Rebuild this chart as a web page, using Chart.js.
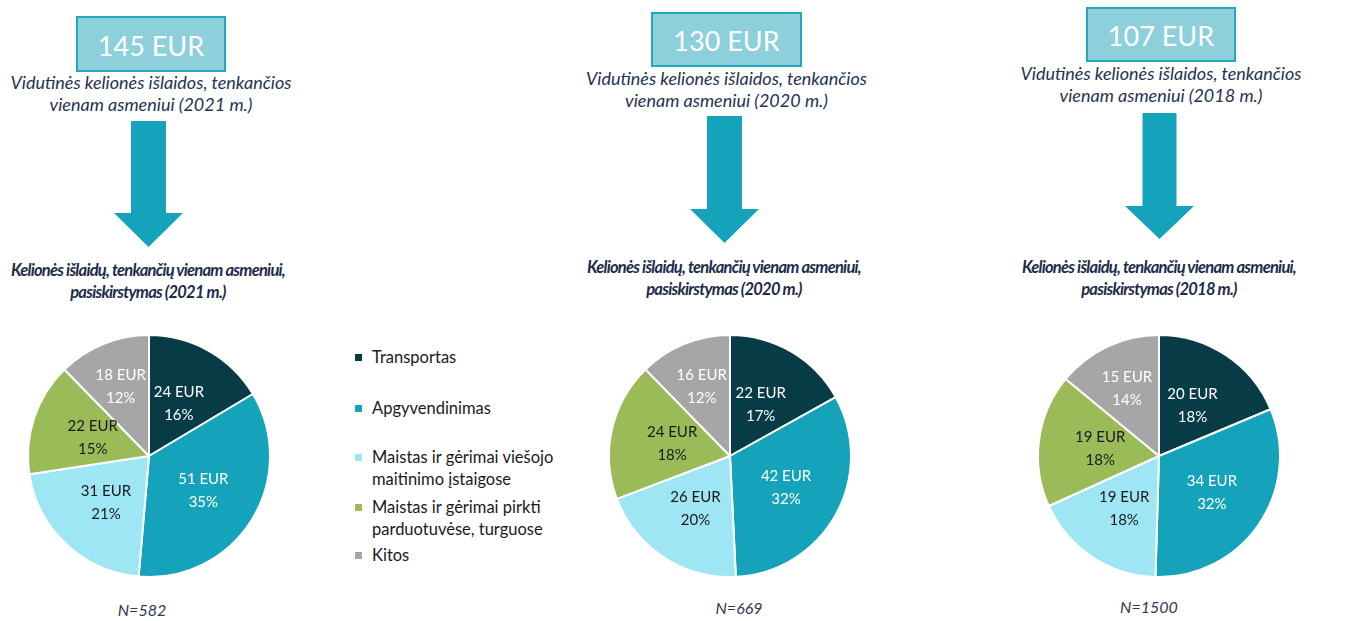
<!DOCTYPE html>
<html>
<head>
<meta charset="utf-8">
<script src="https://cdn.jsdelivr.net/npm/chart.js@4/dist/chart.umd.min.js"></script>
<style>
  html, body { margin:0; padding:0; background:#fff; }
  body { width:1345px; height:621px; position:relative; overflow:hidden; font-family: Lato, "Open Sans", sans-serif; }
  .box { position:absolute; background:#8dd0dc; border:2px solid #22a9bb; box-sizing:border-box; color:#fff; font-size:27px; font-weight:400; text-align:center; display:flex; align-items:center; justify-content:center; padding-top:2px; }
  .sub { position:absolute; width:340px; text-align:center; font-style:italic; font-size:18px; line-height:22px; color:#243352; }
  .ttl { position:absolute; width:380px; text-align:center; font-style:italic; font-weight:bold; font-size:16.5px; line-height:22px; color:#1c2b4a; letter-spacing:-0.75px; }
  .nlab { position:absolute; width:120px; text-align:center; font-style:italic; font-size:16px; color:#2d3a55; }
  svg.arrow { position:absolute; }
  .pie { position:absolute; width:260px; height:260px; }
  #legend { position:absolute; left:355px; top:346px; font-size:16.5px; color:#1a1a1a; }
  #legend .item { position:absolute; left:0; white-space:nowrap; line-height:22px; }
  #legend .sw { position:absolute; left:0; top:8px; width:7px; height:7px; }
  #legend .tx { position:absolute; left:17px; top:0; }
</style>
</head>
<body>
<script>
// ---------------- data ----------------
const categories = [
  "Transportas",
  "Apgyvendinimas",
  "Maistas ir gėrimai viešojo maitinimo įstaigose",
  "Maistas ir gėrimai pirkti parduotuvėse, turguose",
  "Kitos"
];
const legendLines = [
  ["Transportas"],
  ["Apgyvendinimas"],
  ["Maistas ir gėrimai viešojo", "maitinimo įstaigose"],
  ["Maistas ir gėrimai pirkti", "parduotuvėse, turguose"],
  ["Kitos"]
];
const years = ["2021", "2020", "2018"];
const averageEUR = [145, 130, 107];
const sampleN = [582, 669, 1500];
const eur2021 = [24, 51, 31, 22, 18];
const pct2021 = [16, 35, 21, 15, 12];
const eur2020 = [22, 42, 26, 24, 16];
const pct2020 = [17, 32, 20, 18, 12];
const eur2018 = [20, 34, 19, 19, 15];
const pct2018 = [18, 32, 18, 18, 14];

const sliceColors = ["#073c46", "#15a3bc", "#9fe6f5", "#9bbb59", "#a6a6a6"];
const labelColors = ["#ffffff", "#ffffff", "#1a1a1a", "#1a1a1a", "#ffffff"];
const labelRadius = [0.5, 0.53, 0.52, 0.49, 0.62];

// ---------------- layout ----------------
const panels = [
  { cx:149, cy:456, box:[76,16,150,56], subY:71, arrow:{x:148, top:121, neck:213, tip:247, sw:35, hw:69}, ttlY:259, nY:600, nX:142, eur:eur2021, pct:pct2021 },
  { cx:730, cy:456, box:[651,12,151,55], subY:67, arrow:{x:724, top:116, neck:209, tip:243, sw:35, hw:69}, ttlY:256, nY:598, nX:739, eur:eur2020, pct:pct2020 },
  { cx:1159, cy:456, box:[1086,7,150,55], subY:62, arrow:{x:1159, top:113, neck:206, tip:239, sw:34, hw:69}, ttlY:256, nY:597, nX:1149, eur:eur2018, pct:pct2018 }
];

const labelPlugin = {
  id: 'sliceLabels',
  afterDatasetsDraw(chart) {
    const ctx = chart.ctx;
    const meta = chart.getDatasetMeta(0);
    const pcts = chart.options.plugins.sliceLabels.pct;
    const vals = chart.data.datasets[0].data;
    ctx.save();
    ctx.font = '15px Lato, "Open Sans", sans-serif';
    ctx.textAlign = 'center';
    ctx.textBaseline = 'middle';
    meta.data.forEach((arc, i) => {
      const p = arc.getProps(['x','y','startAngle','endAngle','outerRadius'], true);
      const mid = (p.startAngle + p.endAngle) / 2;
      const r = p.outerRadius * labelRadius[i];
      const x = p.x + Math.cos(mid) * r;
      const y = p.y + Math.sin(mid) * r;
      ctx.fillStyle = labelColors[i];
      ctx.fillText(vals[i] + ' EUR', x, y - 11);
      ctx.fillText(pcts[i] + '%', x, y + 12);
    });
    ctx.restore();
  }
};

panels.forEach((pn, k) => {
  const b = document.createElement('div');
  b.className = 'box';
  b.style.left = pn.box[0] + 'px'; b.style.top = pn.box[1] + 'px';
  b.style.width = pn.box[2] + 'px'; b.style.height = pn.box[3] + 'px';
  b.textContent = averageEUR[k] + ' EUR';
  document.body.appendChild(b);
  const s = document.createElement('div');
  s.className = 'sub';
  s.style.left = (pn.box[0] + pn.box[2]/2 - 170) + 'px';
  s.style.top = pn.subY + 'px';
  s.innerHTML = 'Vidutinės kelionės išlaidos, tenkančios<br>vienam asmeniui (' + years[k] + ' m.)';
  document.body.appendChild(s);
  const a = pn.arrow;
  const svgNS = 'http://www.w3.org/2000/svg';
  const svg = document.createElementNS(svgNS, 'svg');
  svg.setAttribute('class', 'arrow');
  const w = a.hw, h = a.tip - a.top;
  svg.setAttribute('width', w); svg.setAttribute('height', h);
  svg.style.left = (a.x - w/2) + 'px'; svg.style.top = a.top + 'px';
  const poly = document.createElementNS(svgNS, 'polygon');
  const c = w/2, sw = a.sw/2, n = a.neck - a.top;
  poly.setAttribute('points', `${c-sw},0 ${c+sw},0 ${c+sw},${n} ${w},${n} ${c},${h} 0,${n} ${c-sw},${n}`);
  poly.setAttribute('fill', '#15a3bc');
  svg.appendChild(poly);
  document.body.appendChild(svg);
  const t = document.createElement('div');
  t.className = 'ttl';
  t.style.left = (a.x - 190) + 'px';
  t.style.top = pn.ttlY + 'px';
  t.innerHTML = 'Kelionės išlaidų, tenkančių vienam asmeniui,<br>pasiskirstymas (' + years[k] + ' m.)';
  document.body.appendChild(t);
  const nl = document.createElement('div');
  nl.className = 'nlab';
  nl.style.left = (pn.nX - 60) + 'px';
  nl.style.top = pn.nY + 'px';
  nl.textContent = 'N=' + sampleN[k];
  document.body.appendChild(nl);
  const holder = document.createElement('div');
  holder.className = 'pie';
  holder.style.left = (pn.cx - 130) + 'px';
  holder.style.top = (pn.cy - 130) + 'px';
  const cv = document.createElement('canvas');
  holder.appendChild(cv);
  document.body.appendChild(holder);
  new Chart(cv, {
    type: 'pie',
    data: {
      labels: categories,
      datasets: [{ data: pn.eur, backgroundColor: sliceColors, borderColor: '#ffffff', borderWidth: 2 }]
    },
    options: {
      responsive: true,
      maintainAspectRatio: false,
      animation: false,
      layout: { padding: 8 },
      plugins: {
        legend: { display: false },
        tooltip: { enabled: false },
        sliceLabels: { pct: pn.pct }
      }
    },
    plugins: [labelPlugin]
  });
});

const lg = document.createElement('div');
lg.id = 'legend';
const legendTops = [0, 51, 100, 150, 198];
legendLines.forEach((lines, i) => {
  const it = document.createElement('div');
  it.className = 'item';
  it.style.top = legendTops[i] + 'px';
  const sw = document.createElement('div');
  sw.className = 'sw'; sw.style.background = sliceColors[i];
  const tx = document.createElement('div');
  tx.className = 'tx'; tx.innerHTML = lines.join('<br>');
  it.appendChild(sw); it.appendChild(tx);
  lg.appendChild(it);
});
document.body.appendChild(lg);
</script>
</body>
</html>
